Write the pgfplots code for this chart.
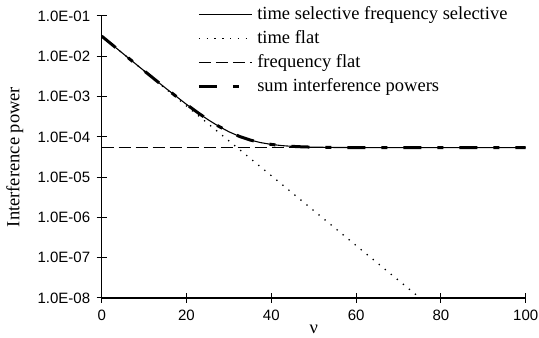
\documentclass[border=0pt]{standalone}
\usepackage{fontspec}
\setmainfont{Liberation Serif}
\newfontfamily\arial{Liberation Sans}
\usepackage{pgfplots}
\pgfplotsset{compat=1.18}
\pgfplotstableread{
x y
0 3.16e-2
5 1.167e-2
10 4.31e-3
15 1.589e-3
20 5.86e-4
25 2.16e-4
30 7.98e-5
35 2.94e-5
40 1.087e-5
45 4.01e-6
50 1.48e-6
55 5.46e-7
60 2.01e-7
65 7.43e-8
70 2.74e-8
75.06 1.0e-8
}\timeflat
\pgfplotstableread{
x y
0 3.165e-2
5 1.172e-2
10 4.36e-3
15 1.643e-3
20 6.40e-4
22.5 4.10e-4
25 2.70e-4
27.5 1.853e-4
30 1.338e-4
32.5 1.025e-4
35 8.34e-5
37.5 7.19e-5
40 6.49e-5
42.5 6.06e-5
45 5.80e-5
47.5 5.64e-5
50 5.55e-5
55 5.45e-5
60 5.42e-5
65 5.41e-5
70 5.40e-5
80 5.40e-5
90 5.40e-5
100 5.40e-5
}\sumpow
\pgfplotstableread{
x y
0 5.4e-5
100 5.4e-5
}\freqflat
\begin{document}
\begin{tikzpicture}
\begin{axis}[name=ax, scale only axis, width=424pt, height=282pt,
  xmin=0, xmax=100, ymode=log, ymin=1e-8, ymax=1e-1,
  axis lines*=left, axis line style={line width=1.1pt},
  tick align=center, major tick length=10pt,
  tick style={line width=1pt, black},
  yminorticks=false,
  xtick={0,20,40,60,80,100}, xticklabels={0,20,40,60,80,100},
  ytick={1e-8,1e-7,1e-6,1e-5,1e-4,1e-3,1e-2,1e-1},
  yticklabels={1.0E-08,1.0E-07,1.0E-06,1.0E-05,1.0E-04,1.0E-03,1.0E-02,1.0E-01},
  ticklabel style={font=\arial\fontsize{15}{18}\selectfont},
  yticklabel style={xshift=-3pt},
  xticklabel style={yshift=-4pt},
  xlabel={ν}, ylabel={Interference power},
  label style={font=\fontsize{18.5}{22}\selectfont},
  xlabel style={at={(axis description cs:0.5,0)}, anchor=center, yshift=-31pt},
  ylabel style={at={(axis description cs:-0.205,0.5)}, anchor=center},
  legend image code/.code={\draw[#1] (0pt,0pt) -- (53pt,0pt);},
  legend cell align=left,
  legend style={draw=none, fill=none, at={(axis description cs:0.225,1)}, anchor=north west,
    yshift=10pt, inner sep=0pt, row sep=7pt, column sep=4pt,
    nodes={inner sep=0pt, text height=13pt, text depth=4pt, font=\fontsize{18.5}{22}\selectfont}},
]
\addplot[black, line width=1.1pt] table[x=x,y=y] {\sumpow};
\addlegendentry{time selective frequency selective}
\addplot[black, line width=1.3pt, dash pattern=on 1.3pt off 6.5pt] table[x=x,y=y] {\timeflat};
\addlegendentry{time flat}
\addplot[black, line width=1.4pt, dash pattern=on 12pt off 5pt] table[x=x,y=y] {\freqflat};
\addlegendentry{frequency flat}
\addplot[black, line width=3pt, dash pattern=on 18pt off 16pt on 6pt off 16pt] table[x=x,y=y] {\sumpow};
\addlegendentry{sum interference powers}
\end{axis}
\pgfresetboundingbox
\path[use as bounding box] ([xshift=-101.7pt,yshift=-40pt]ax.south west) rectangle ([xshift=13.3pt,yshift=16pt]ax.north east);
\end{tikzpicture}
\end{document}
